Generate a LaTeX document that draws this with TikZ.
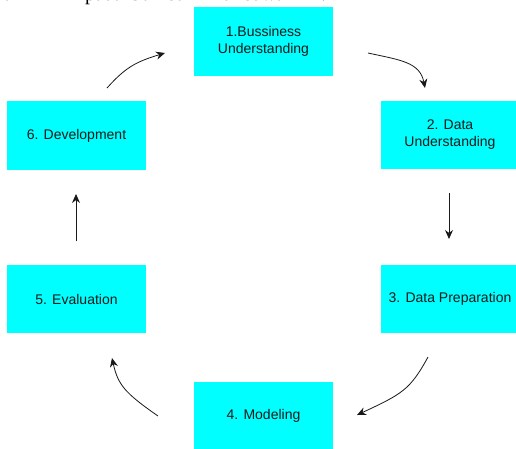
\documentclass[tikz,border=0pt]{standalone}
\usepackage{fontspec}
\setmainfont{Liberation Sans}
\newfontfamily\serifcut{Liberation Serif}
\usetikzlibrary{arrows.meta}
\definecolor{boxcyan}{HTML}{00FFFF}
\definecolor{txt}{HTML}{1A1A1A}
\tikzset{
  stepbox/.style={rectangle, fill=boxcyan, draw=none, minimum width=139pt, minimum height=68.5pt, inner sep=0pt, align=center, text=txt, font=\fontsize{14}{17}\selectfont},
  flow/.style={draw=black!90, line width=0.8pt, -{Stealth[length=9pt,width=8pt]}}
}
\begin{document}
\begin{tikzpicture}[x=1pt,y=-1pt]
\useasboundingbox (0,0) rectangle (516,448);
\clip (0,0) rectangle (516,448);
\node[anchor=base west, inner sep=0pt, font=\serifcut\fontsize{20}{24}\selectfont] (cut) at (4,0.3) {a\hspace{72pt}pada Gambar\hspace{30pt}di bawah ini.};
\node[stepbox] (b1) at (263.5,41.5) {1.Bussiness\\Understanding};
\node[stepbox] (b2) at (450,135) {2. Data\\Understanding};
\node[stepbox] (b3) at (450,299) {3. Data Preparation};
\node[stepbox] (b4) at (263.5,416) {4. Modeling};
\node[stepbox] (b5) at (76.5,299) {5. Evaluation};
\node[stepbox] (b6) at (76.5,135.5) {6. Development};
\coordinate (a1s) at (368,53);
\coordinate (a1e) at (425,88);
\coordinate (a2s) at (449,193);
\coordinate (a2e) at (449,239);
\coordinate (a3s) at (428,357);
\coordinate (a3e) at (357,415);
\coordinate (a4s) at (158,416);
\coordinate (a4e) at (112,358);
\coordinate (a5s) at (76,241);
\coordinate (a5e) at (76,194);
\coordinate (a6s) at (107,88);
\coordinate (a6e) at (165,53);
\draw[flow] (a1s) .. controls (400,60) and (420,62) .. (a1e);
\draw[flow] (a2s) -- (a2e);
\draw[flow] (a3s) .. controls (410,390) and (402,394) .. (a3e);
\draw[flow] (a4s) .. controls (125,393) and (118,385) .. (a4e);
\draw[flow] (a5s) -- (a5e);
\draw[flow] (a6s) .. controls (125,68) and (135,62) .. (a6e);
\end{tikzpicture}
\end{document}
